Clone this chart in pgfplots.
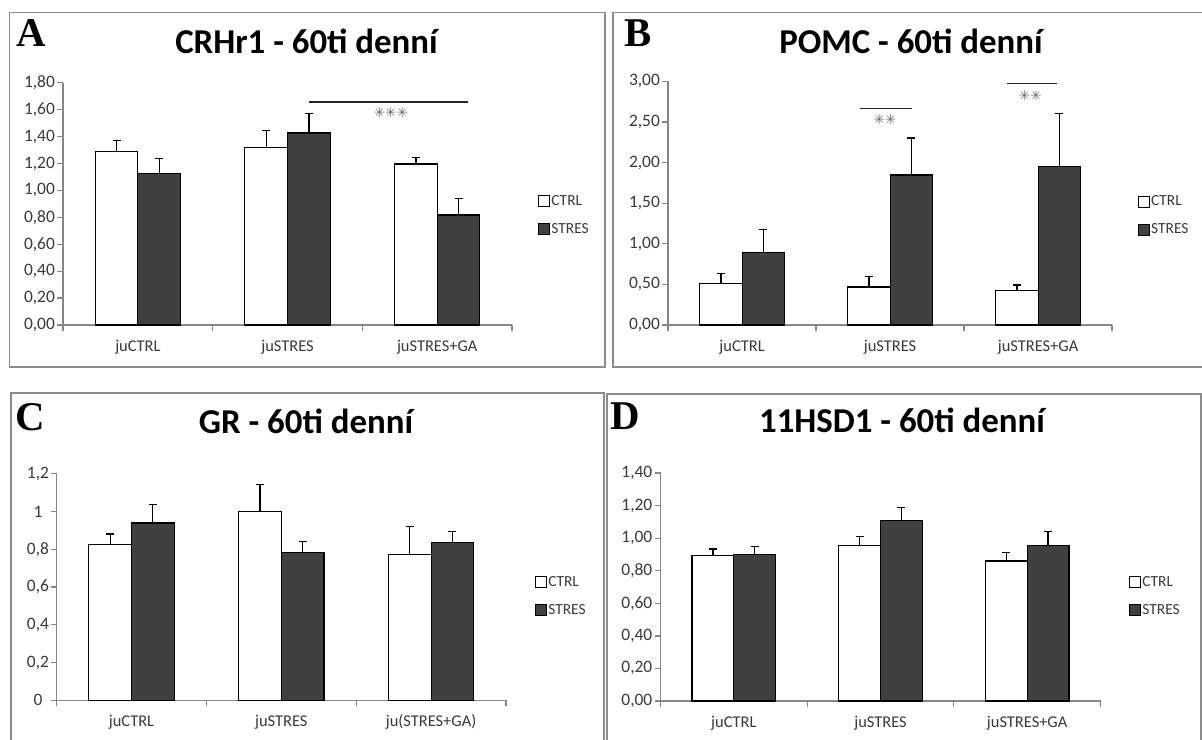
\documentclass[border=0pt]{standalone}
\usepackage{pgfplots}
\pgfplotsset{compat=1.18}
\usepackage{fontspec}
\setmainfont{Carlito}
\newfontfamily\letterfont{Liberation Serif}
\newfontfamily\starfont{DejaVu Sans}
\definecolor{darkbar}{HTML}{404040}
\definecolor{axisgray}{HTML}{878787}
\definecolor{framegray}{HTML}{8C8C8C}
\definecolor{labelgray}{HTML}{3A3A3A}
\definecolor{stargray}{HTML}{6A6A6A}

\tikzset{stars/.style={inner sep=0pt, font=\starfont\fontsize{13.5}{15}\selectfont, text=stargray}}

\pgfplotsset{
  exbar/.style={
    scale only axis,
    xmin=-0.5, xmax=2.5, ymin=0,
    axis x line*=bottom, axis y line*=left,
    axis line style={draw=axisgray, line width=1.3bp, -},
    xtick={0,1,2},
    minor xtick={-0.5,0.5,1.5,2.5},
    major x tick style={draw=none},
    minor tick length=6bp, major tick length=6bp,
    tick align=outside,
    tick style={draw=axisgray, line width=1.3bp},
    ticklabel style={text=labelgray, inner sep=0pt},
    xticklabel style={font=\fontsize{16.5}{18}\selectfont, anchor=base, yshift=-20bp},
    yticklabel style={font=\fontsize{17.5}{19}\selectfont, anchor=east, xshift=-2bp},
    /pgf/number format/assume math mode=true,
    legend style={draw=none, fill=none, font=\fontsize{15.5}{17}\selectfont, text=labelgray,
      anchor=west, inner sep=0pt, row sep=12bp,
      nodes={inner sep=1bp, text height=11bp, text depth=3bp}},
    legend cell align=left,
    legend image code/.code={\draw[#1] (0bp,-5.5bp) rectangle (11bp,5.5bp);},
    clip=false,
  },
  ctrl/.style={ybar, bar shift=0pt, bar width=0.285, fill=white, draw=black, line width=1.1bp,
    error bars/.cd, y dir=plus, y explicit,
    error bar style={black, line width=1.2bp},
    error mark options={black, line width=1.2bp, mark size=4bp, rotate=90}},
  stres/.style={ybar, bar shift=0pt, bar width=0.285, fill=darkbar, draw=black, line width=1.1bp,
    error bars/.cd, y dir=plus, y explicit,
    error bar style={black, line width=1.2bp},
    error mark options={black, line width=1.2bp, mark size=4bp, rotate=90}},
  fmt2/.style={yticklabel style={/pgf/number format/.cd, use comma, fixed, fixed zerofill, precision=2}},
}

\begin{document}
\begin{tikzpicture}
\path[use as bounding box] (0,0) rectangle (1202bp,-740bp);
\fill[white] (0,0) rectangle (1202bp,-740bp);
% frames
\draw[framegray, line width=1.5bp] (9.5bp,-12.7bp) rectangle (605bp,-367bp);
\draw[framegray, line width=1.5bp] (1210bp,-12.7bp) -- (613bp,-12.7bp) -- (613bp,-367bp) -- (1210bp,-367bp);
\draw[framegray, line width=1.5bp] (11bp,-750bp) -- (11bp,-393bp) -- (604bp,-393bp) -- (604bp,-750bp);
\draw[framegray, line width=1.5bp] (607bp,-750bp) -- (607bp,-394bp) -- (1201bp,-394bp) -- (1201bp,-750bp);
% letters
\node[anchor=base west, inner sep=0pt, font=\letterfont\bfseries\fontsize{41}{43}\selectfont] at (16bp,-46bp) {A};
\node[anchor=base west, inner sep=0pt, font=\letterfont\bfseries\fontsize{41}{43}\selectfont] at (624bp,-46bp) {B};
\node[anchor=base west, inner sep=0pt, font=\letterfont\bfseries\fontsize{41}{43}\selectfont] at (15bp,-430bp) {C};
\node[anchor=base west, inner sep=0pt, font=\letterfont\bfseries\fontsize{41}{43}\selectfont] at (610bp,-429bp) {D};
% titles
\node[anchor=base, inner sep=0pt, font=\bfseries\fontsize{35}{37}\selectfont] at (306.5bp,-53.3bp) {CRHr1 - 60ti denní};
\node[anchor=base, inner sep=0pt, font=\bfseries\fontsize{35}{37}\selectfont] at (911bp,-53.3bp) {POMC - 60ti denní};
\node[anchor=base, inner sep=0pt, font=\bfseries\fontsize{35}{37}\selectfont] at (306bp,-433.3bp) {GR - 60ti denní};
\node[anchor=base, inner sep=0pt, font=\bfseries\fontsize{35}{37}\selectfont] at (902bp,-432.7bp) {11HSD1 - 60ti denní};

% ---------- A ----------
\begin{axis}[exbar, fmt2, at={(63.1bp,-325bp)}, anchor=south west,
  width=449bp, height=242.3bp, ymax=1.8,
  ytick={0,0.2,0.4,0.6,0.8,1.0,1.2,1.4,1.6,1.8},
  xticklabels={juCTRL,juSTRES,juSTRES+GA},
  legend style={at={(1.058,0.454)}}]
\addplot[ctrl] coordinates {(-0.1425,1.287) +- (0,0.083) (0.8575,1.317) +- (0,0.129) (1.8575,1.196) +- (0,0.049)};
\addplot[stres] coordinates {(0.1425,1.124) +- (0,0.111) (1.1425,1.426) +- (0,0.146) (2.1425,0.817) +- (0,0.121)};
\legend{CTRL,STRES}
\draw[black!85, line width=1.2bp] (axis cs:1.144,1.657) -- (axis cs:2.205,1.657);
\node[stars] at (axis cs:1.69,1.579) {✳✳✳};
\end{axis}

% ---------- B ----------
\begin{axis}[exbar, fmt2, at={(668.1bp,-325bp)}, anchor=south west,
  width=444bp, height=243.7bp, ymax=3,
  ytick={0,0.5,1,1.5,2,2.5,3},
  xticklabels={juCTRL,juSTRES,juSTRES+GA},
  legend style={at={(1.058,0.449)}}]
\addplot[ctrl] coordinates {(-0.1425,0.509) +- (0,0.123) (0.8575,0.468) +- (0,0.131) (1.8575,0.423) +- (0,0.069)};
\addplot[stres] coordinates {(0.1425,0.890) +- (0,0.288) (1.1425,1.847) +- (0,0.455) (2.1425,1.953) +- (0,0.649)};
\legend{CTRL,STRES}
\draw[black!85, line width=1.2bp] (axis cs:0.797,2.667) -- (axis cs:1.146,2.667);
\draw[black!85, line width=1.2bp] (axis cs:1.79,2.971) -- (axis cs:2.128,2.971);
\node[stars] at (axis cs:0.965,2.532) {✳✳};
\node[stars] at (axis cs:1.947,2.823) {✳✳};
\end{axis}

% ---------- C ----------
\begin{axis}[exbar, at={(56.6bp,-700.3bp)}, anchor=south west,
  width=449.4bp, height=226.6bp, ymax=1.2,
  ytick={0,0.2,0.4,0.6,0.8,1,1.2},
  yticklabel style={anchor=center, xshift=-10.6bp, /pgf/number format/.cd, use comma, fixed, precision=1},
  xticklabels={juCTRL,juSTRES,ju(STRES+GA)},
  legend style={at={(1.0645,0.460)}}]
\addplot[ctrl] coordinates {(-0.1425,0.824) +- (0,0.057) (0.8575,0.999) +- (0,0.143) (1.8575,0.771) +- (0,0.150)};
\addplot[stres] coordinates {(0.1425,0.939) +- (0,0.099) (1.1425,0.783) +- (0,0.059) (2.1425,0.835) +- (0,0.058)};
\legend{CTRL,STRES}
\end{axis}

% ---------- D ----------
\begin{axis}[exbar, fmt2, at={(660.5bp,-701bp)}, anchor=south west,
  width=440bp, height=228bp, ymax=1.4,
  ytick={0,0.2,0.4,0.6,0.8,1.0,1.2,1.4},
  xticklabels={juCTRL,juSTRES,juSTRES+GA},
  legend style={at={(1.065,0.4605)}}]
\addplot[ctrl] coordinates {(-0.1425,0.896) +- (0,0.037) (0.8575,0.956) +- (0,0.053) (1.8575,0.860) +- (0,0.051)};
\addplot[stres] coordinates {(0.1425,0.900) +- (0,0.048) (1.1425,1.107) +- (0,0.082) (2.1425,0.956) +- (0,0.086)};
\legend{CTRL,STRES}
\end{axis}
\end{tikzpicture}
\end{document}
